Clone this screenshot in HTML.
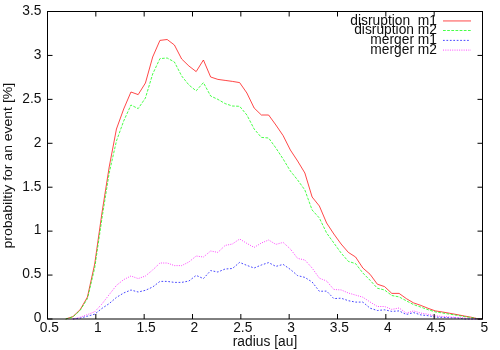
<!DOCTYPE html>
<html><head><meta charset="utf-8"><title>plot</title>
<style>
html,body{margin:0;padding:0;background:#fff;}
body{width:500px;height:350px;overflow:hidden;}
svg{display:block;will-change:transform;}
text{font-family:"Liberation Sans",sans-serif;font-size:13.8px;fill:#0d0d0d;}
</style></head><body>
<svg width="500" height="350" viewBox="0 0 500 350">
<rect width="500" height="350" fill="#fff"/>
<g fill="none" stroke-width="0.9" stroke-opacity="0.8" stroke-linejoin="round">
<polyline stroke="#ff0000" points="65.71,319.0 72.96,316.6 80.21,309.6 87.45,297 94.7,264 101.95,213 109.2,167 116.44,129 123.69,109 130.94,92 138.18,94.6 145.43,83 152.68,57 159.93,40.4 167.17,39.5 174.42,45 181.67,59 188.91,66 196.16,71.6 203.41,60 210.65,77 217.9,79.4 225.15,80.4 232.4,81.4 239.64,82.6 246.89,93 254.14,108 261.38,115 268.63,115 275.88,125 283.12,135.6 290.37,150 297.62,161 304.87,173 312.11,197 319.36,206 326.61,223 333.85,234 341.1,244 348.35,252.4 355.59,257 362.84,268 370.09,274.3 377.34,284.2 384.58,286.6 391.83,293.4 399.08,293.4 406.32,298.6 413.57,302.9 420.82,305.4 428.06,308.3 435.31,310.9 442.56,312 449.8,313.3 457.05,314.6 464.3,316 471.55,317.3 478.79,319.0 482.5,319.0"/>
<polyline stroke="#00ff00" stroke-dasharray="2.75 1.41" points="65.71,319.0 72.96,316.8 80.21,310.3 87.45,298.6 94.7,268 101.95,218.5 109.2,173 116.44,141 123.69,121 130.94,105 138.18,108.6 145.43,98 152.68,74 159.93,58.6 167.17,58 174.42,62 181.67,76 188.91,85 196.16,90.8 203.41,82.6 210.65,96 217.9,99.4 225.15,103.6 232.4,106 239.64,106.3 246.89,115 254.14,129 261.38,137.4 268.63,138 275.88,148 283.12,159 290.37,171 297.62,180 304.87,190 312.11,210 319.36,218 326.61,233 333.85,243 341.1,253 348.35,261.4 355.59,263.6 362.84,273 370.09,280.3 377.34,288.2 384.58,290 391.83,295.5 399.08,296.9 406.32,300.8 413.57,304.6 420.82,307.1 428.06,309.7 435.31,311.9 442.56,313 449.8,314.2 457.05,315.3 464.3,316.5 471.55,317.6 478.79,319.0 482.5,319.0"/>
<polyline stroke="#0000ff" stroke-dasharray="1.72 1.72" points="72.96,319.0 80.21,318.1 87.45,316.2 94.7,314.2 101.95,308.4 109.2,303.6 116.44,297.4 123.69,293 130.94,290 138.18,292 145.43,290.3 152.68,287 159.93,281.4 167.17,281.4 174.42,282.4 181.67,282.4 188.91,281 196.16,275.4 203.41,278.6 210.65,270.6 217.9,272 225.15,269 232.4,268.5 239.64,262.4 246.89,265.4 254.14,268 261.38,265 268.63,262.6 275.88,266.4 283.12,264.4 290.37,269.4 297.62,275.6 304.87,277.4 312.11,282 319.36,291.3 326.61,291.1 333.85,298.6 341.1,298.2 348.35,300.7 355.59,302.1 362.84,302.1 370.09,308.2 377.34,310.5 384.58,309.8 391.83,311.4 399.08,310.9 406.32,314.5 413.57,312.6 420.82,314.9 428.06,315.7 435.31,317 442.56,317.4 449.8,317.7 457.05,318 464.3,319.0 471.55,319.0 478.79,319.0 482.5,319.0"/>
<polyline stroke="#ff00ff" stroke-dasharray="1 1.3" points="72.96,319.0 80.21,317.2 87.45,314.6 94.7,311.8 101.95,304 109.2,294.6 116.44,285.4 123.69,279.6 130.94,276 138.18,278.6 145.43,276 152.68,270 159.93,263 167.17,263 174.42,265.6 181.67,265.6 188.91,262 196.16,256 203.41,257 210.65,251 217.9,252.4 225.15,245.4 232.4,244 239.64,239 246.89,243.4 254.14,247.4 261.38,243 268.63,240 275.88,244.4 283.12,242.4 290.37,249 297.62,258.4 304.87,260 312.11,268 319.36,278.2 326.61,281 333.85,289.5 341.1,289.9 348.35,293 355.59,295.1 362.84,297.2 370.09,302 377.34,306.5 384.58,306.5 391.83,309.4 399.08,308 406.32,313.1 413.57,310.9 420.82,313.1 428.06,314.3 435.31,315.8 442.56,316.5 449.8,317 457.05,317.5 464.3,317.9 471.55,319.0 478.79,319.0 482.5,319.0"/>
</g>
<g fill="none" stroke="#000" stroke-width="1">
<rect x="47.5" y="11.5" width="435.0" height="307.5"/>
<path d="M47.5 319.0v-5M47.5 11.5v5"/><path d="M95.83 319.0v-5M95.83 11.5v5"/><path d="M144.17 319.0v-5M144.17 11.5v5"/><path d="M192.5 319.0v-5M192.5 11.5v5"/><path d="M240.83 319.0v-5M240.83 11.5v5"/><path d="M289.17 319.0v-5M289.17 11.5v5"/><path d="M337.5 319.0v-5M337.5 11.5v5"/><path d="M385.83 319.0v-5M385.83 11.5v5"/><path d="M434.17 319.0v-5M434.17 11.5v5"/><path d="M482.5 319.0v-5M482.5 11.5v5"/><path d="M47.5 319.0h5M482.5 319.0h-5"/><path d="M47.5 275.07h5M482.5 275.07h-5"/><path d="M47.5 231.14h5M482.5 231.14h-5"/><path d="M47.5 187.21h5M482.5 187.21h-5"/><path d="M47.5 143.29h5M482.5 143.29h-5"/><path d="M47.5 99.36h5M482.5 99.36h-5"/><path d="M47.5 55.43h5M482.5 55.43h-5"/><path d="M47.5 11.5h5M482.5 11.5h-5"/>
</g>
<g opacity="0.99">
<text transform="translate(49.4,332.4) scale(1,1.06)" text-anchor="middle">0.5</text><text transform="translate(97.73,332.4) scale(1,1.06)" text-anchor="middle">1</text><text transform="translate(146.07,332.4) scale(1,1.06)" text-anchor="middle">1.5</text><text transform="translate(194.4,332.4) scale(1,1.06)" text-anchor="middle">2</text><text transform="translate(242.73,332.4) scale(1,1.06)" text-anchor="middle">2.5</text><text transform="translate(291.07,332.4) scale(1,1.06)" text-anchor="middle">3</text><text transform="translate(339.4,332.4) scale(1,1.06)" text-anchor="middle">3.5</text><text transform="translate(387.73,332.4) scale(1,1.06)" text-anchor="middle">4</text><text transform="translate(436.07,332.4) scale(1,1.06)" text-anchor="middle">4.5</text><text transform="translate(484.4,332.4) scale(1,1.06)" text-anchor="middle">5</text>
<text transform="translate(41.4,322.0) scale(1,1.06)" text-anchor="end">0</text><text transform="translate(41.4,278.2) scale(1,1.06)" text-anchor="end">0.5</text><text transform="translate(41.4,234.4) scale(1,1.06)" text-anchor="end">1</text><text transform="translate(41.4,190.6) scale(1,1.06)" text-anchor="end">1.5</text><text transform="translate(41.4,146.8) scale(1,1.06)" text-anchor="end">2</text><text transform="translate(41.4,103.0) scale(1,1.06)" text-anchor="end">2.5</text><text transform="translate(41.4,59.2) scale(1,1.06)" text-anchor="end">3</text><text transform="translate(41.4,15.4) scale(1,1.06)" text-anchor="end">3.5</text>
<text transform="translate(265,346.1) scale(1,1.06)" text-anchor="middle">radius [au]</text>
<text transform="translate(11.5,165.7) rotate(-90) scale(1,0.88)" style="font-size:14px" text-anchor="middle">probabiltiy for an event [%]</text>
<text transform="translate(437.0,24.5) scale(1,1.06)" text-anchor="end" xml:space="preserve" style="white-space:pre">disruption  m1</text>
<text transform="translate(437.0,34.18) scale(1,1.06)" text-anchor="end">disruption m2</text>
<text transform="translate(437.0,43.86) scale(1,1.06)" text-anchor="end">merger m1</text>
<text transform="translate(437.0,53.55) scale(1,1.06)" text-anchor="end">merger m2</text>
</g>
<g fill="none" stroke-width="0.9" stroke-opacity="0.8">
<path stroke="#ff0000" d="M443 20.95H471"/>
<path stroke="#00ff00" stroke-dasharray="2.75 1.41" d="M443 30.5H471"/>
<path stroke="#0000ff" stroke-dasharray="1.72 1.72" d="M443 40.4H469.5"/>
<path stroke="#ff00ff" stroke-dasharray="1 1.3" d="M443 50.1H471"/>
</g>
</svg>
</body></html>
